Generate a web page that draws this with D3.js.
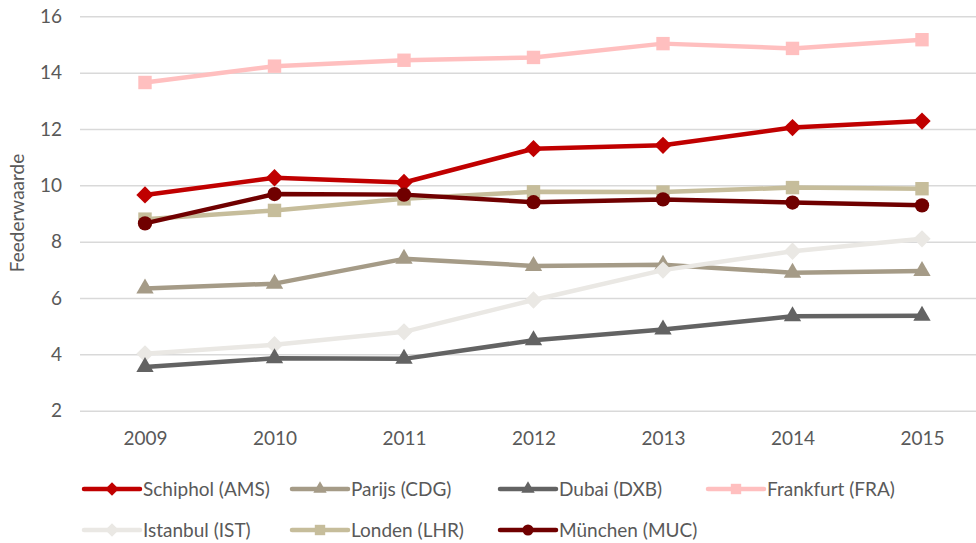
<!DOCTYPE html>
<html>
<head>
<meta charset="utf-8">
<script src="https://cdn.jsdelivr.net/npm/d3@7"></script>
<style>
  body { margin: 0; background: #fff; }
  text { font-family: Lato, "Open Sans", sans-serif; fill: #595959; }
</style>
</head>
<body>
<div class="chart"></div>
<script>
// DATA
// ----------------------------
const years = ['2009', '2010', '2011', '2012', '2013', '2014', '2015']
const yTicks = [2, 4, 6, 8, 10, 12, 14, 16]

const schiphol = [9.66, 10.27, 10.1, 11.3, 11.42, 12.05, 12.28]
const parijs = [6.34, 6.51, 7.39, 7.14, 7.18, 6.9, 6.96]
const dubai = [3.55, 3.86, 3.84, 4.5, 4.88, 5.35, 5.37]
const frankfurt = [13.65, 14.23, 14.44, 14.54, 15.03, 14.86, 15.17]
const istanbul = [4.02, 4.34, 4.8, 5.93, 6.99, 7.66, 8.1]
const londen = [8.8, 9.11, 9.52, 9.77, 9.76, 9.92, 9.88]
const munchen = [8.65, 9.69, 9.67, 9.4, 9.5, 9.39, 9.29]

const series = [
  { name: 'Schiphol (AMS)', values: schiphol, color: '#C00000', marker: 'diamond' },
  { name: 'Parijs (CDG)', values: parijs, color: '#A59B87', marker: 'triangle' },
  { name: 'Dubai (DXB)', values: dubai, color: '#636363', marker: 'triangle' },
  { name: 'Frankfurt (FRA)', values: frankfurt, color: '#FFBFBF', marker: 'square' },
  { name: 'Istanbul (IST)', values: istanbul, color: '#EAE8E4', marker: 'diamond' },
  { name: 'Londen (LHR)', values: londen, color: '#C6BD9B', marker: 'square' },
  { name: 'München (MUC)', values: munchen, color: '#700000', marker: 'circle' }
]

// SETUP
// ----------------------------
const fullWidth = 976
const fullHeight = 543
const margin = { top: 16, left: 80 }
const fontSize = '19px'

const svg = d3.select('.chart')
  .append('svg')
    .attr('width', fullWidth)
    .attr('height', fullHeight)

// SCALES
// ----------------------------
const xScale = d3.scalePoint()
  .domain(years)
  .range([145, 922])

const yScale = d3.scaleLinear()
  .domain([2, 16])
  .range([410.7, 16.3])

// GRID + Y AXIS
// ----------------------------
const yAxis = d3.axisLeft(yScale)
  .tickValues(yTicks)
  .tickSize(-(fullWidth - margin.left))
  .tickPadding(18)
const yG = svg.append('g')
  .attr('transform', `translate(${margin.left}, 0)`)
  .call(yAxis)
yG.select('.domain').remove()
yG.selectAll('.tick line').attr('stroke', '#d9d9d9').attr('stroke-width', 1.5)
yG.selectAll('.tick text').style('font-size', fontSize).attr('fill', '#595959')

svg.append('text')
  .attr('transform', 'translate(24, 213) rotate(-90)')
  .style('text-anchor', 'middle')
  .style('font-size', fontSize)
  .text('Feederwaarde')

// X AXIS
// ----------------------------
const xAxis = d3.axisBottom(xScale).tickSize(0).tickPadding(21)
const xG = svg.append('g')
  .attr('transform', `translate(0, ${yScale(2)})`)
  .call(xAxis)
xG.select('.domain').remove()
xG.selectAll('.tick text').style('font-size', fontSize).attr('fill', '#595959')

// MARKERS
// ----------------------------
// diamond as a rotated square, like the spreadsheet marker
const symbolDiamondSq = {
  draw (context, size) {
    const r = Math.sqrt(size / 2)
    context.moveTo(0, -r)
    context.lineTo(r, 0)
    context.lineTo(0, r)
    context.lineTo(-r, 0)
    context.closePath()
  }
}
const symbolTypes = {
  diamond: symbolDiamondSq,
  triangle: d3.symbolTriangle,
  square: d3.symbolSquare,
  circle: d3.symbolCircle
}
const symbolSize = { diamond: 150, triangle: 130, square: 180, circle: 160 }

function marker (type, k = 1) {
  return d3.symbol().type(symbolTypes[type]).size(symbolSize[type] * k)()
}

// LINES
// ----------------------------
const line = d3.line()
  .x((d, i) => xScale(years[i]))
  .y(d => yScale(d))

const drawOrder = [3, 0, 5, 1, 4, 2, 6]
drawOrder.forEach(k => {
  const s = series[k]
  const g = svg.append('g')
  g.append('path')
    .attr('d', line(s.values))
    .attr('fill', 'none')
    .attr('stroke', s.color)
    .attr('stroke-width', 4.5)
    .attr('stroke-linejoin', 'round')
  g.selectAll('.pt')
    .data(s.values)
    .enter()
    .append('path')
    .attr('class', 'pt')
    .attr('transform', (d, i) => `translate(${xScale(years[i])}, ${yScale(d)})`)
    .attr('d', marker(s.marker))
    .attr('fill', s.color)
})

// LEGEND
// ----------------------------
const legend = svg.selectAll('.legend')
  .data(series)
  .enter()
  .append('g')
  .attr('class', 'legend')
  .attr('transform', (d, i) => `translate(${84 + (i % 4) * 208}, ${489 + Math.floor(i / 4) * 41})`)

legend.append('line')
  .attr('x1', 0)
  .attr('x2', 56)
  .attr('stroke', d => d.color)
  .attr('stroke-width', 4.5)
  .attr('stroke-linecap', 'round')

legend.append('path')
  .attr('transform', 'translate(28, 0)')
  .attr('d', d => marker(d.marker, 0.6))
  .attr('fill', d => d.color)

legend.append('text')
  .attr('x', 59)
  .attr('y', 7)
  .style('font-size', fontSize)
  .text(d => d.name)
</script>
</body>
</html>
